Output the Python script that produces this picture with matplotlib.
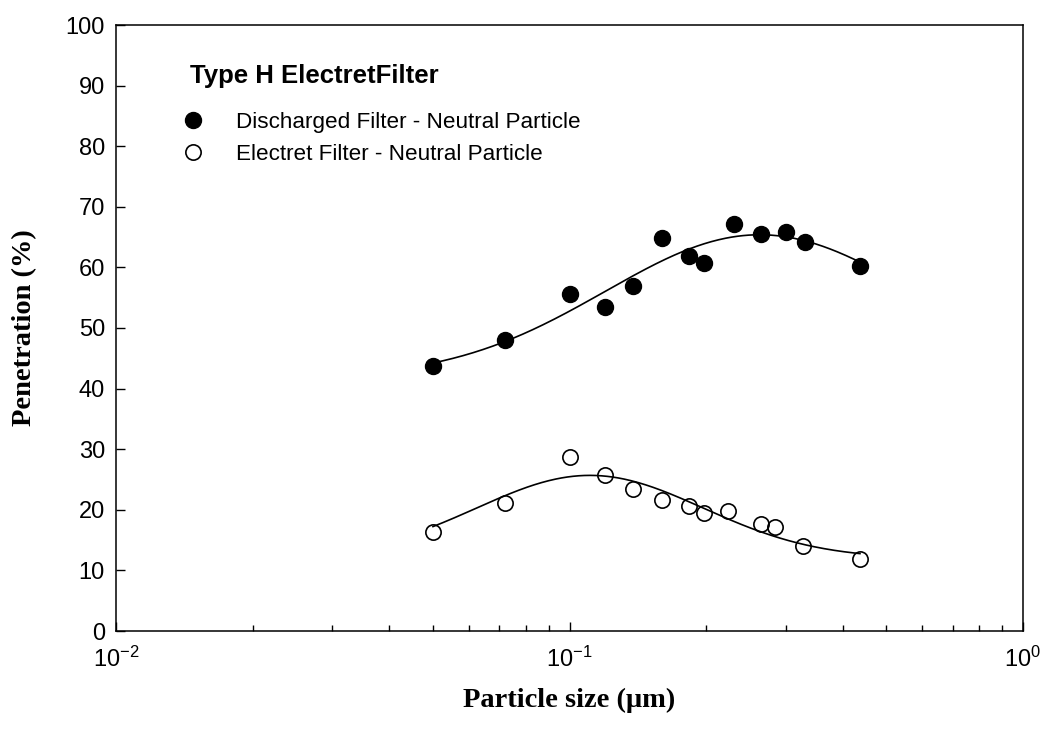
import numpy as np
import matplotlib.pyplot as plt
from matplotlib.lines import Line2D

plt.rcParams['font.family'] = ['Liberation Sans', 'DejaVu Sans']
plt.rcParams['mathtext.default'] = 'regular'

# particle diameter (um) and penetration (%) for each filter state
size_discharged = [0.050, 0.072, 0.100, 0.120, 0.138, 0.160, 0.1835, 0.198,
                   0.2305, 0.2645, 0.300, 0.330, 0.437]
pen_discharged = [43.7, 48.0, 55.6, 53.5, 56.9, 64.8, 61.9, 60.7,
                  67.2, 65.5, 65.9, 64.2, 60.3]

size_electret = [0.050, 0.072, 0.100, 0.120, 0.138, 0.160, 0.1835, 0.198,
                 0.2237, 0.2645, 0.284, 0.327, 0.437]
pen_electret = [16.3, 21.1, 28.7, 25.7, 23.4, 21.6, 20.6, 19.5,
                19.8, 17.7, 17.2, 14.0, 11.9]

labels = ['Discharged Filter - Neutral Particle',
          'Electret Filter - Neutral Particle']


def gauss_fit(x, y):
    # 4-parameter gaussian in log(size): y0 + a*exp(-0.5*((u-c)/w)**2)
    u = np.log10(x)
    y = np.asarray(y, dtype=float)
    best = None
    for c in np.linspace(u.min() - 0.5, u.max() + 0.5, 141):
        for w in np.linspace(0.05, 1.5, 146):
            g = np.exp(-0.5 * ((u - c) / w) ** 2)
            A = np.column_stack([np.ones_like(u), g])
            p, *_ = np.linalg.lstsq(A, y, rcond=None)
            r = np.sum((A @ p - y) ** 2)
            if best is None or r < best[0]:
                best = (r, c, w, p)
    _, c, w, p = best
    xs = np.logspace(u.min(), u.max(), 300)
    us = np.log10(xs)
    return xs, p[0] + p[1] * np.exp(-0.5 * ((us - c) / w) ** 2)


fig = plt.figure(figsize=(10.43, 7.29), dpi=100)
ax = fig.add_axes([116 / 1043, 98 / 729, 907 / 1043, 606 / 729])

xf, yf = gauss_fit(size_discharged, pen_discharged)
ax.plot(xf, yf, color='black', lw=1.2, zorder=2)
xf, yf = gauss_fit(size_electret, pen_electret)
ax.plot(xf, yf, color='black', lw=1.2, zorder=2)

ax.plot(size_discharged, pen_discharged, 'o', ms=11.5, mfc='black',
        mec='black', zorder=3)
ax.plot(size_electret, pen_electret, 'o', ms=11, mfc='none',
        mec='black', mew=1.2, zorder=3)

ax.set_xscale('log')
ax.set_xlim(0.01, 1)
ax.set_ylim(0, 100)
ax.set_yticks(range(0, 101, 10))
ax.tick_params(which='both', direction='in', top=False, right=False)
ax.tick_params(which='major', length=6.5, width=1, labelsize=17, pad=8)
ax.tick_params(axis='x', which='major', pad=11)
ax.tick_params(which='minor', length=4.5, width=1)
for sp in ax.spines.values():
    sp.set_linewidth(1.1)

ax.set_xlabel('Particle size (μm)', family='Liberation Serif',
              weight='bold', fontsize=20.5, va='center')
ax.xaxis.set_label_coords(0.5, (29 - 98) / 606)
ax.set_ylabel('Penetration (%)', family='Liberation Serif',
              weight='bold', fontsize=20.5, va='center')
ax.yaxis.set_label_coords((25 - 116) / 907, 0.5)

fig.text(190 / 1043, 1 - 76 / 729, 'Type H ElectretFilter', fontsize=18.5,
         weight='bold', ha='left', va='center')

handles = [
    Line2D([], [], marker='o', ls='none', ms=11.5, mfc='black', mec='black'),
    Line2D([], [], marker='o', ls='none', ms=11, mfc='none', mec='black',
           mew=1.2),
]
ax.legend(handles, labels, loc='upper left',
          bbox_to_anchor=(186 / 1043, 1 - 112 / 729),
          bbox_transform=fig.transFigure, frameon=False, fontsize=16.2,
          handlelength=0.6, handletextpad=1.6, labelspacing=0.48,
          borderpad=0, borderaxespad=0)

fig.savefig('out.png', dpi=100)
